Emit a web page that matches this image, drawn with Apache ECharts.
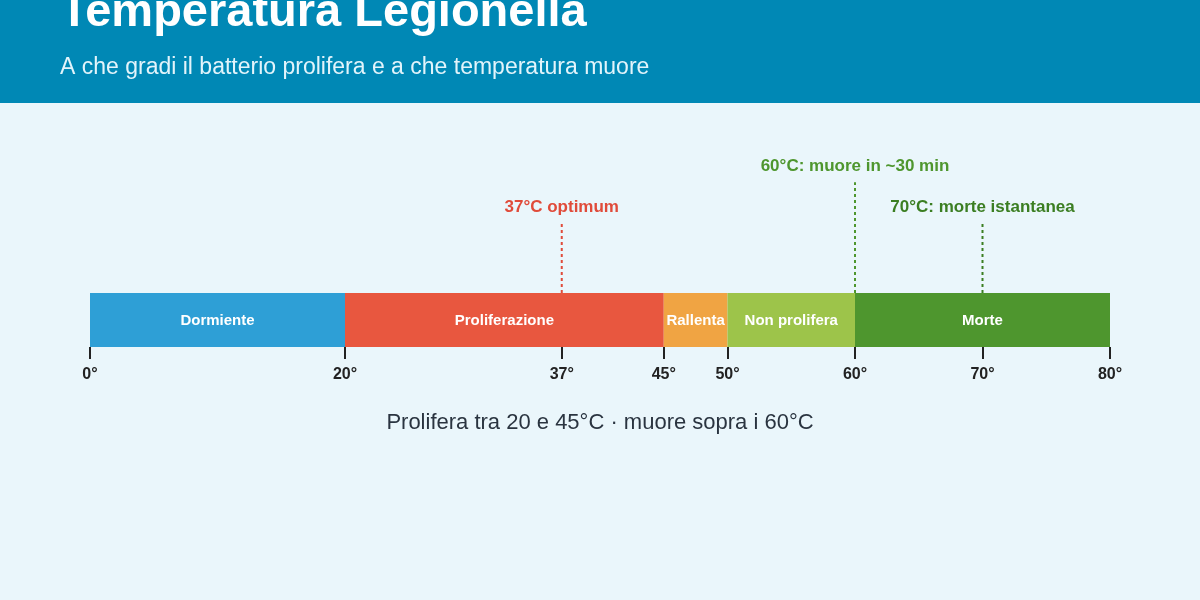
<!DOCTYPE html><html><head><meta charset="utf-8"><script src="https://cdn.jsdelivr.net/npm/echarts@6/dist/echarts.min.js"></script>
<style>body{margin:0}#c{width:1200px;height:600px}</style></head><body><div id="c"></div><script>
const zoneNames=['Dormiente','Proliferazione','Rallenta','Non prolifera','Morte'];
const zoneStart=[0,20,45,50,60];
const zoneEnd=[20,45,50,60,80];
const zoneColors=['#2e9fd6','#e8573f','#f0a443','#9dc44a','#4e962e'];
const tickValues=[0,20,37,45,50,60,70,80];
const markTemps=[37,60,70];
const markLabels=['37°C optimum','60°C: muore in ~30 min','70°C: morte istantanea'];
const markColors=['#e04b3a','#4e962e','#3b7e22'];
const markHeights=[1.3,2.05,1.3];
const ch=echarts.init(document.getElementById('c'));
ch.setOption({
backgroundColor:'#eaf6fb',
graphic:[
{type:'rect',shape:{x:0,y:0,width:1200,height:103},style:{fill:'#0088b5'}},
{type:'text',left:60,top:-10,style:{text:'Temperatura Legionella',fill:'#fff',font:'bold 47px Liberation Sans, Arial, sans-serif'}},
{type:'text',left:60,top:56,style:{text:'A che gradi il batterio prolifera e a che temperatura muore',fill:'#e2f4fb',font:'23px Liberation Sans, Arial, sans-serif'}},
{type:'text',left:'center',top:412,style:{text:'Prolifera tra 20 e 45°C · muore sopra i 60°C',fill:'#2a3440',font:'22px Liberation Sans, Arial, sans-serif'}}
],
grid:{left:90,right:90,top:293,height:54},
xAxis:{type:'value',min:0,max:80,splitLine:{show:false},axisLine:{show:false},
 axisTick:{show:true,customValues:tickValues,length:12,lineStyle:{color:'#222',width:2}},
 axisLabel:{customValues:tickValues,formatter:v=>v+'°',color:'#222',fontWeight:'bold',fontSize:16,margin:20,fontFamily:'Liberation Sans, Arial'}},
yAxis:{type:'value',min:0,max:1,show:false},
series:[
{type:'custom',clip:false,data:zoneNames.map((n,i)=>[zoneStart[i],zoneEnd[i],i]),
 renderItem:(p,api)=>{const i=api.value(2);const a=api.coord([api.value(0),1]);const b=api.coord([api.value(1),0]);
  return {type:'group',children:[{type:'rect',shape:{x:a[0],y:a[1],width:b[0]-a[0],height:b[1]-a[1]},style:{fill:zoneColors[i]}},
  {type:'text',style:{text:zoneNames[i],x:(a[0]+b[0])/2,y:(a[1]+b[1])/2+1,align:'center',verticalAlign:'middle',fill:'#fff',font:'bold 15px Liberation Sans, Arial'}}]};}},
{type:'custom',clip:false,data:markTemps.map((t,i)=>[t,markHeights[i],i]),
 renderItem:(p,api)=>{const i=api.value(2);const a=api.coord([api.value(0),1]);const top=api.coord([api.value(0),1+api.value(1)]);
  return {type:'group',children:[{type:'line',shape:{x1:a[0],y1:a[1],x2:a[0],y2:top[1]},style:{stroke:markColors[i],lineWidth:2,lineDash:[3,3]}},
  {type:'text',style:{text:markLabels[i],x:a[0],y:top[1]-7,align:'center',verticalAlign:'bottom',fill:markColors[i],font:'bold 17px Liberation Sans, Arial'}}]};}}
]});
</script></body></html>
